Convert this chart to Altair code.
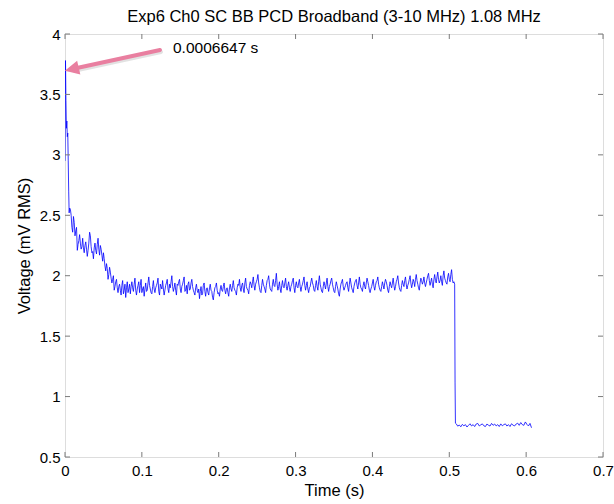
import altair as alt
import pandas as pd

# ---- data ----
t_start = [0.0, 0.00066, 0.0012, 0.0018, 0.0024, 0.003, 0.0036, 0.0042, 0.0048, 0.0054, 0.006]
v_start = [2.95, 3.78, 3.45, 3.22, 3.28, 3.15, 3.18, 2.95, 2.70, 2.52, 2.56]

# samples at 0.007, 0.009, ... 0.507 s
v_high = [
    2.55, 2.40, 2.49, 2.33, 2.40, 2.26, 2.34, 2.22, 2.31, 2.19,
    2.28, 2.16, 2.27, 2.33, 2.19, 2.14, 2.27, 2.18, 2.31, 2.17,
    2.22, 2.12, 2.14, 2.04, 2.06, 2.01, 2.03, 1.94, 2.00, 1.91,
    1.97, 1.86, 1.93, 1.84, 1.96, 1.88, 1.82, 1.95, 1.89, 1.85,
    1.95, 1.87, 1.98, 1.84, 1.92, 1.86, 1.97, 1.89, 1.83, 1.94,
    1.88, 1.99, 1.89, 1.85, 1.96, 1.86, 1.92, 1.98, 1.84, 1.91,
    1.96, 1.84, 1.92, 1.97, 1.86, 1.90, 2.00, 1.87, 1.94, 1.84,
    1.92, 1.97, 1.86, 1.93, 1.99, 1.88, 1.85, 1.95, 1.89, 1.97,
    1.88, 1.84, 1.93, 1.86, 1.81, 1.91, 1.85, 1.94, 1.83, 1.90,
    1.84, 1.93, 1.87, 1.80, 1.90, 1.94, 1.85, 1.83, 1.92, 1.87,
    1.94, 1.85, 1.90, 1.83, 1.93, 1.87, 1.96, 1.88, 1.84, 1.93,
    1.97, 1.87, 1.94, 1.86, 1.98, 1.89, 1.85, 1.95, 1.90, 1.99,
    1.88, 1.95, 2.01, 1.90, 1.86, 1.97, 1.91, 1.86, 1.96, 2.00,
    1.89, 1.87, 1.97, 1.91, 2.02, 1.88, 1.95, 1.86, 1.96, 1.90,
    1.98, 1.88, 1.95, 1.87, 1.93, 1.98, 1.86, 1.95, 1.90, 1.97,
    1.87, 1.93, 1.99, 1.88, 1.95, 1.86, 1.91, 1.98, 1.92, 1.87,
    1.96, 1.88, 2.00, 1.90, 1.86, 1.95, 1.89, 1.98, 1.87, 1.93,
    1.98, 1.90, 1.86, 1.95, 1.89, 1.83, 1.93, 1.97, 1.88, 1.92,
    1.95, 1.87, 1.98, 1.90, 1.86, 1.94, 1.97, 1.89, 1.99, 1.90,
    1.87, 1.95, 1.89, 1.98, 1.92, 1.86, 1.91, 1.97, 1.88, 1.95,
    1.99, 1.90, 1.87, 1.95, 1.89, 1.97, 1.92, 1.86, 1.95, 1.90,
    1.98, 1.88, 1.95, 2.00, 1.90, 1.87, 1.96, 1.91, 1.99, 1.89,
    1.94, 2.00, 1.90, 1.97, 1.91, 2.01, 1.93, 1.88, 1.98, 1.93,
    1.99, 1.91, 1.97, 2.02, 1.92, 1.98, 1.90, 2.01, 1.94, 2.03,
    1.94, 2.00, 1.92, 2.04, 1.96, 1.93, 2.02, 1.95, 2.05, 1.94,
    1.93,
]
# samples at 0.008, 0.010, ... 0.506 s
v_mid = [
    2.50, 2.36, 2.44, 2.37, 2.21, 2.29, 2.27, 2.24, 2.23, 2.25,
    2.22, 2.21, 2.36, 2.24, 2.20, 2.23, 2.21, 2.26, 2.22, 2.25,
    2.17, 2.19, 2.08, 2.10, 1.97, 2.07, 1.98, 1.97, 1.88, 1.95,
    1.90, 1.91, 1.88, 1.92, 1.85, 1.93, 1.90, 1.86, 1.93, 1.91,
    1.90, 1.93, 1.88, 1.89, 1.95, 1.92, 1.86, 1.91, 1.89, 1.87,
    1.94, 1.92, 1.86, 1.91, 1.89, 1.90, 1.94, 1.87, 1.93, 1.89,
    1.89, 1.88, 1.94, 1.89, 1.93, 1.95, 1.91, 1.90, 1.88, 1.93,
    1.95, 1.89, 1.91, 1.96, 1.87, 1.92, 1.93, 1.88, 1.94, 1.91,
    1.86, 1.90, 1.88, 1.89, 1.87, 1.84, 1.92, 1.87, 1.89, 1.86,
    1.90, 1.88, 1.82, 1.86, 1.91, 1.88, 1.86, 1.89, 1.88, 1.91,
    1.88, 1.89, 1.86, 1.90, 1.89, 1.92, 1.90, 1.87, 1.90, 1.92,
    1.90, 1.92, 1.89, 1.94, 1.91, 1.88, 1.92, 1.93, 1.95, 1.92,
    1.93, 1.97, 1.94, 1.87, 1.92, 1.93, 1.89, 1.92, 1.97, 1.93,
    1.88, 1.93, 1.92, 1.96, 1.93, 1.91, 1.89, 1.92, 1.91, 1.94,
    1.91, 1.92, 1.90, 1.91, 1.96, 1.90, 1.92, 1.91, 1.94, 1.91,
    1.91, 1.96, 1.92, 1.92, 1.89, 1.90, 1.95, 1.94, 1.88, 1.92,
    1.91, 1.95, 1.93, 1.87, 1.91, 1.92, 1.94, 1.91, 1.91, 1.96,
    1.93, 1.87, 1.91, 1.92, 1.85, 1.89, 1.95, 1.91, 1.90, 1.94,
    1.90, 1.93, 1.94, 1.88, 1.91, 1.96, 1.92, 1.94, 1.93, 1.89,
    1.92, 1.91, 1.94, 1.95, 1.88, 1.89, 1.94, 1.91, 1.92, 1.96,
    1.93, 1.88, 1.91, 1.92, 1.94, 1.95, 1.88, 1.91, 1.92, 1.94,
    1.92, 1.91, 1.97, 1.94, 1.88, 1.92, 1.93, 1.96, 1.93, 1.92,
    1.97, 1.94, 1.93, 1.95, 1.97, 1.96, 1.90, 1.94, 1.96, 1.95,
    1.94, 1.94, 2.00, 1.96, 1.95, 1.93, 1.97, 1.96, 1.99, 1.97,
    1.96, 1.95, 2.00, 1.98, 1.94, 1.99, 1.97, 2.01, 1.97, 1.95,
]
t_drop = [0.5075, 0.508]
v_drop = [1.12, 0.78]

# samples at 0.509, 0.511, ... 0.607 s
v_low = [
    0.775, 0.755, 0.765, 0.750, 0.770, 0.758, 0.768, 0.748, 0.762, 0.775,
    0.757, 0.768, 0.752, 0.773, 0.778, 0.757, 0.766, 0.774, 0.758, 0.752,
    0.773, 0.763, 0.756, 0.778, 0.762, 0.773, 0.757, 0.768, 0.752, 0.774,
    0.758, 0.768, 0.774, 0.756, 0.768, 0.752, 0.775, 0.763, 0.757, 0.773,
    0.780, 0.762, 0.785, 0.768, 0.762, 0.790, 0.770, 0.757, 0.778, 0.742,
]

x_ticks = [0, 0.1, 0.2, 0.3, 0.4, 0.5, 0.6, 0.7]
y_ticks = [0.5, 1, 1.5, 2, 2.5, 3, 3.5, 4]

title_text = "Exp6 Ch0 SC BB PCD Broadband (3-10 MHz) 1.08 MHz"
annot_text = "0.0006647 s"
annot_pos = [0.1405, 3.884]
arrow_t = [0.1236, 0.0125]
arrow_v = [3.868, 3.714]
head_pos = [0.0104, 3.711]

# ---- assemble table ----
t_high = [round(0.007 + 0.002 * i, 4) for i in range(len(v_high))]
t_mid = [round(0.008 + 0.002 * i, 4) for i in range(len(v_mid))]
t_low = [round(0.509 + 0.002 * i, 4) for i in range(len(v_low))]
df = pd.DataFrame({"t": t_start + t_high + t_mid + t_drop + t_low,
                   "v": v_start + v_high + v_mid + v_drop + v_low}).sort_values("t")

FONT = "Liberation Sans"
GREY = "#7a7a7a"
W, H = 538, 423
TICK = 5

xs = alt.Scale(domain=[0, 0.7], nice=False, zero=False)
ys = alt.Scale(domain=[0.5, 4], nice=False, zero=False)

x_axis = alt.Axis(
    orient="bottom", values=x_ticks, format="~g", ticks=False, domain=False, grid=False,
    labelFont=FONT, labelFontSize=15, labelColor="black", labelPadding=6,
    labelFlush=False, labelOverlap=False,
    title="Time (s)", titleFont=FONT, titleFontSize=16.5, titleFontWeight="normal",
    titleColor="black", titlePadding=4)
y_axis = alt.Axis(
    orient="left", values=y_ticks, format="~g", ticks=False, domain=False, grid=False,
    labelFont=FONT, labelFontSize=15, labelColor="black", labelPadding=5,
    labelFlush=False, labelOverlap=False,
    title="Voltage (mV RMS)", titleFont=FONT, titleFontSize=16.5,
    titleFontWeight="normal", titleColor="black",
    titleX=-41, titleY=H / 2, titleAngle=270, titleAlign="center",
    titleBaseline="middle")
xa = alt.X("t:Q", scale=xs, axis=x_axis)
ya = alt.Y("v:Q", scale=ys, axis=y_axis)

line = alt.Chart(df).mark_line(color="#0000ff", strokeWidth=0.8, clip=True).encode(
    x=xa, y=ya, order="t:Q")

xt = pd.DataFrame({"t": x_ticks})
yt = pd.DataFrame({"v": y_ticks})
tick_style = dict(color=GREY, strokeWidth=1)
ticks = [
    alt.Chart(xt).mark_rule(**tick_style).encode(x=xa, y=alt.value(H - TICK), y2=alt.value(H)),
    alt.Chart(xt).mark_rule(**tick_style).encode(x=xa, y=alt.value(0), y2=alt.value(TICK)),
    alt.Chart(yt).mark_rule(**tick_style).encode(y=ya, x=alt.value(0), x2=alt.value(TICK)),
    alt.Chart(yt).mark_rule(**tick_style).encode(y=ya, x=alt.value(W - TICK), x2=alt.value(W)),
]

arrow_df = pd.DataFrame({"t": arrow_t, "v": arrow_v, "o": [0, 1]})
shadow = alt.Chart(arrow_df).mark_line(color="#a0a0a0", strokeWidth=4, opacity=0.3,
                                       strokeCap="round").encode(
    x=xa, y=ya, order="o:Q", xOffset=alt.value(1), yOffset=alt.value(2))
arrow = alt.Chart(arrow_df).mark_line(color="#e97fa0", strokeWidth=4,
                                      strokeCap="round").encode(
    x=xa, y=ya, order="o:Q")
head = alt.Chart(pd.DataFrame({"t": [head_pos[0]], "v": [head_pos[1]]})).mark_point(
    shape="M0,-1L0.9,0.8L-0.9,0.8Z", filled=True, fill="#e97fa0", stroke="#e97fa0",
    opacity=1, size=150, angle=257).encode(x=xa, y=ya)
label = alt.Chart(pd.DataFrame({"t": [annot_pos[0]], "v": [annot_pos[1]],
                                "s": [annot_text]})).mark_text(
    align="left", baseline="middle", font=FONT, fontSize=15.5, color="black").encode(
    x=xa, y=ya, text="s:N")

chart = alt.layer(line, *ticks, shadow, arrow, head, label).properties(
    width=W, height=H,
    title=alt.TitleParams(title_text, font=FONT, fontSize=16.5, fontWeight="normal",
                          color="black", offset=2, anchor="middle"),
    autosize=alt.AutoSizeParams(type="none"),
    padding={"left": 65, "top": 34, "right": 11, "bottom": 47},
).configure_view(stroke=GREY, strokeWidth=1).configure(background="white")

chart.save("out.html", embed_options={"renderer": "svg", "actions": False})
